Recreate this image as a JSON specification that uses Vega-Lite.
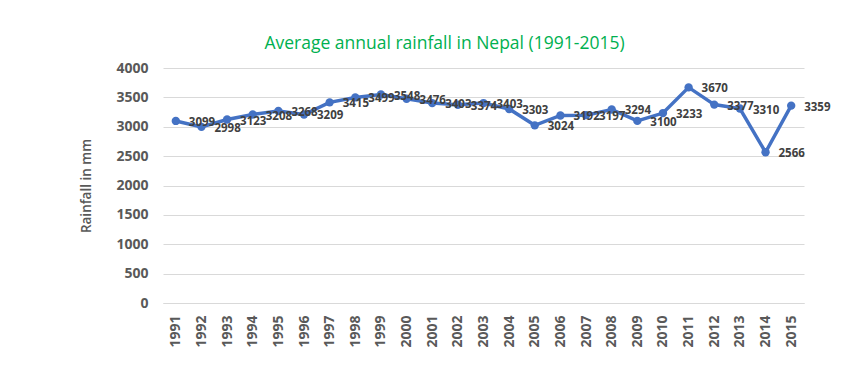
{
  "$schema": "https://vega.github.io/schema/vega-lite/v6.json",
  "width": 641,
  "height": 235,
  "autosize": {"type": "none"},
  "padding": {"left": 163, "top": 68, "right": 42, "bottom": 74},
  "background": "white",
  "title": {
    "text": "Average annual rainfall in Nepal (1991-2015)",
    "font": "Open Sans",
    "fontSize": 17.5,
    "fontWeight": 500,
    "color": "#00B050",
    "anchor": "middle",
    "frame": "group",
    "dx": -39,
    "offset": 9
  },
  "data": {
    "values": [
      {"year": "1991", "rain": 3099},
      {"year": "1992", "rain": 2998},
      {"year": "1993", "rain": 3123},
      {"year": "1994", "rain": 3208},
      {"year": "1995", "rain": 3268},
      {"year": "1996", "rain": 3209},
      {"year": "1997", "rain": 3415},
      {"year": "1998", "rain": 3499},
      {"year": "1999", "rain": 3548},
      {"year": "2000", "rain": 3476},
      {"year": "2001", "rain": 3403},
      {"year": "2002", "rain": 3374},
      {"year": "2003", "rain": 3403},
      {"year": "2004", "rain": 3303},
      {"year": "2005", "rain": 3024},
      {"year": "2006", "rain": 3192},
      {"year": "2007", "rain": 3197},
      {"year": "2008", "rain": 3294},
      {"year": "2009", "rain": 3100},
      {"year": "2010", "rain": 3233},
      {"year": "2011", "rain": 3670},
      {"year": "2012", "rain": 3377},
      {"year": "2013", "rain": 3310},
      {"year": "2014", "rain": 2566},
      {"year": "2015", "rain": 3359}
    ]
  },
  "encoding": {
    "x": {
      "field": "year",
      "type": "ordinal",
      "scale": {"paddingInner": 0, "paddingOuter": 0.5},
      "axis": {
        "title": null,
        "labelAngle": -90,
        "labelFont": "Open Sans",
        "labelFontSize": 14,
        "labelFontWeight": "bold",
        "labelColor": "#595959",
        "labelPadding": 12,
        "ticks": false,
        "domainColor": "#D9D9D9",
        "domainWidth": 1
      }
    },
    "y": {
      "field": "rain",
      "type": "quantitative",
      "scale": {"domain": [0, 4000]},
      "axis": {
        "title": "Rainfall in mm",
        "titleFont": "Open Sans",
        "titleFontSize": 13.5,
        "titleFontWeight": 600,
        "titleColor": "#595959",
        "titlePadding": 22,
        "format": "d",
        "values": [0, 500, 1000, 1500, 2000, 2500, 3000, 3500, 4000],
        "labelFont": "Open Sans",
        "labelFontSize": 14,
        "labelFontWeight": "bold",
        "labelColor": "#595959",
        "labelPadding": 15,
        "ticks": false,
        "domain": false,
        "gridColor": "#D9D9D9",
        "gridWidth": 1
      }
    }
  },
  "layer": [
    {
      "mark": {"type": "line", "color": "#4472C4", "strokeWidth": 3.5}
    },
    {
      "mark": {"type": "point", "filled": true, "color": "#4472C4", "size": 70, "opacity": 1}
    },
    {
      "mark": {
        "type": "text",
        "align": "left",
        "baseline": "middle",
        "dx": 13,
        "dy": 2,
        "font": "Open Sans",
        "fontSize": 11.5,
        "fontWeight": "bold",
        "color": "#404040"
      },
      "encoding": {"text": {"field": "rain", "type": "quantitative"}}
    }
  ],
  "config": {"view": {"stroke": null}}
}
